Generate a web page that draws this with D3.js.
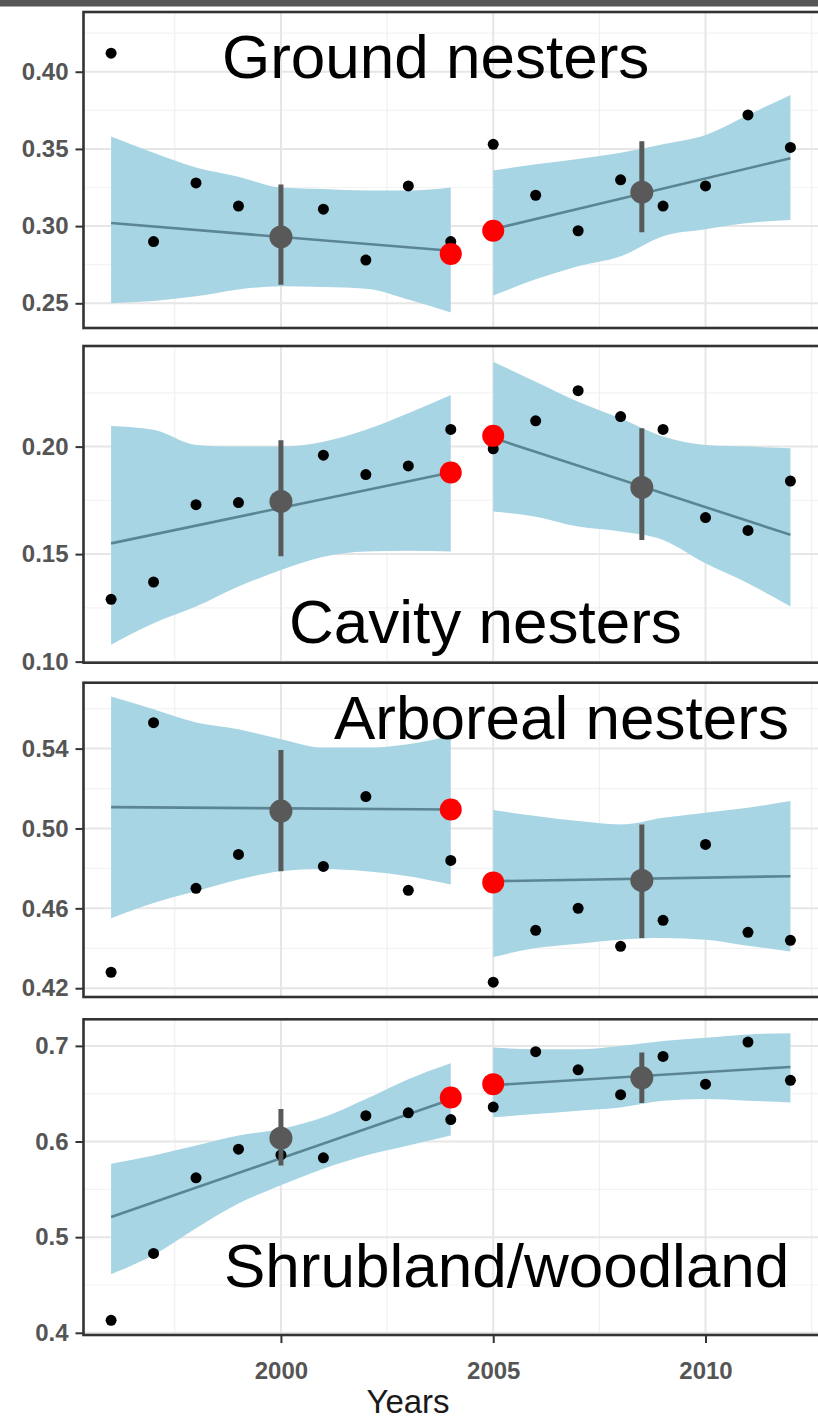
<!DOCTYPE html>
<html>
  <head>
    <script src="https://d3js.org/d3.v7.min.js"></script>
    <style>
      body { margin: 0; background: #fff; }
      svg { display: block; font-family: "Liberation Sans", Arial, sans-serif; }
      .tick text { fill: #555; font-size: 24px; font-weight: bold; }
      .tick line { stroke: #333; stroke-width: 2; }
      .domain { display: none; }
    </style>
  </head>
  <body>
    <svg width="818" height="1422"></svg>
    <script>
      // observed years
      var years = [1996, 1997, 1998, 1999, 2000, 2001, 2002, 2003, 2004,
                   2005, 2006, 2007, 2008, 2009, 2010, 2011, 2012];
      var breakYears = [2004, 2005];
      var meanYears = [2000, 2008.5];
      var xTicks = [2000, 2005, 2010];

      // yearly values
      var groundObs   = [0.412, 0.290, 0.328, 0.313, 0.294, 0.311, 0.278, 0.326, 0.290,
                         0.353, 0.320, 0.297, 0.330, 0.313, 0.326, 0.372, 0.351];
      var cavityObs   = [0.129, 0.137, 0.173, 0.174, 0.176, 0.196, 0.187, 0.191, 0.208,
                         0.199, 0.212, 0.226, 0.214, 0.208, 0.167, 0.161, 0.184];
      var arborealObs = [0.428, 0.553, 0.470, 0.487, 0.508, 0.481, 0.516, 0.469, 0.484,
                         0.423, 0.449, 0.460, 0.441, 0.454, 0.492, 0.448, 0.444];
      var shrubObs    = [0.413, 0.483, 0.562, 0.592, 0.586, 0.583, 0.627, 0.630, 0.623,
                         0.636, 0.694, 0.675, 0.649, 0.689, 0.660, 0.704, 0.664];

      // red points at the break (2004, 2005)
      var groundBreak   = [0.282, 0.297];
      var cavityBreak   = [0.188, 0.205];
      var arborealBreak = [0.5095, 0.473];
      var shrubBreak    = [0.646, 0.660];

      // period means with intervals
      var groundMean   = [0.293, 0.322],   groundLo   = [0.262, 0.296],   groundHi   = [0.327, 0.355];
      var cavityMean   = [0.1745, 0.181],  cavityLo   = [0.149, 0.1566],  cavityHi   = [0.203, 0.2085];
      var arborealMean = [0.5087, 0.474],  arborealLo = [0.4786, 0.4451], arborealHi = [0.5393, 0.502];
      var shrubMean    = [0.6035, 0.6666], shrubLo    = [0.575, 0.6402],  shrubHi    = [0.634, 0.693];

      // fitted line ends: [first year, last year] of each period
      var groundFit1 = [0.302, 0.284],    groundFit2 = [0.298, 0.344];
      var cavityFit1 = [0.155, 0.188],    cavityFit2 = [0.204, 0.159];
      var arborealFit1 = [0.5107, 0.5095], arborealFit2 = [0.4736, 0.4761];
      var shrubFit1 = [0.521, 0.644],     shrubFit2 = [0.659, 0.678];

      // confidence bands, 1996-2004 and 2005-2012
      var groundUp1 = [0.358, 0.3475, 0.338, 0.332, 0.325, 0.324, 0.323, 0.323, 0.325];
      var groundLw1 = [0.250, 0.2515, 0.2545, 0.259, 0.261, 0.2605, 0.2595, 0.2525, 0.244];
      var groundUp2 = [0.336, 0.340, 0.3435, 0.3475, 0.353, 0.359, 0.372, 0.385];
      var groundLw2 = [0.255, 0.2655, 0.274, 0.2805, 0.2935, 0.298, 0.302, 0.304];

      var cavityUp1 = [0.2096, 0.2078, 0.2008, 0.200, 0.200, 0.2023, 0.2078, 0.2155, 0.224];
      var cavityLw1 = [0.1078, 0.1178, 0.1256, 0.1349, 0.1426, 0.1488, 0.1512, 0.1516, 0.1512];
      var cavityUp2 = [0.2395, 0.2302, 0.2209, 0.2132, 0.2047, 0.2008, 0.200, 0.1992];
      var cavityLw2 = [0.1698, 0.1674, 0.1628, 0.1605, 0.1566, 0.1457, 0.1364, 0.1256];

      var arborealUp1 = [0.5661, 0.5597, 0.5531, 0.5497, 0.5447, 0.5405, 0.5405, 0.5422, 0.5464];
      var arborealLw1 = [0.4551, 0.4627, 0.4685, 0.4744, 0.4786, 0.4797, 0.4786, 0.4761, 0.4719];
      var arborealUp2 = [0.5092, 0.5062, 0.5037, 0.502, 0.5054, 0.5079, 0.5104, 0.5137];
      var arborealLw2 = [0.4356, 0.4401, 0.4423, 0.4443, 0.4451, 0.4443, 0.4413, 0.4384];

      var shrubUp1 = [0.5768, 0.5854, 0.5958, 0.6062, 0.6132, 0.6253, 0.6444, 0.6652, 0.6819];
      var shrubLw1 = [0.4613, 0.4814, 0.5092, 0.5351, 0.5542, 0.5716, 0.5854, 0.5958, 0.6062];
      var shrubUp2 = [0.6982, 0.6964, 0.6964, 0.6999, 0.7051, 0.7086, 0.712, 0.7131];
      var shrubLw2 = [0.6253, 0.6288, 0.6323, 0.6357, 0.6427, 0.6444, 0.6427, 0.6409];

      // y ticks and labels
      var groundTicks = [0.25, 0.30, 0.35, 0.40];
      var cavityTicks = [0.10, 0.15, 0.20];
      var arborealTicks = [0.42, 0.46, 0.50, 0.54];
      var shrubTicks = [0.4, 0.5, 0.6, 0.7];
      var titles = ["Ground nesters", "Cavity nesters", "Arboreal nesters", "Shrubland/woodland"];

      var svg = d3.select("svg");
      var x = d3.scaleLinear().domain([1995.35, 2012.8]).range([83.5, 824.4]);
      var left = x.range()[0], width = 760;

      var panels = [
        {obs: groundObs, brk: groundBreak, mean: groundMean, lo: groundLo, hi: groundHi,
         fit1: groundFit1, fit2: groundFit2, up1: groundUp1, lw1: groundLw1, up2: groundUp2, lw2: groundLw2,
         ticks: groundTicks, fmt: ".2f", domain: [0.234, 0.4387], top: 12, bottom: 328,
         title: titles[0], tx: 222, ty: 78},
        {obs: cavityObs, brk: cavityBreak, mean: cavityMean, lo: cavityLo, hi: cavityHi,
         fit1: cavityFit1, fit2: cavityFit2, up1: cavityUp1, lw1: cavityLw1, up2: cavityUp2, lw2: cavityLw2,
         ticks: cavityTicks, fmt: ".2f", domain: [0.0995, 0.2468], top: 346, bottom: 662.7,
         title: titles[1], tx: 289, ty: 643},
        {obs: arborealObs, brk: arborealBreak, mean: arborealMean, lo: arborealLo, hi: arborealHi,
         fit1: arborealFit1, fit2: arborealFit2, up1: arborealUp1, lw1: arborealLw1, up2: arborealUp2, lw2: arborealLw2,
         ticks: arborealTicks, fmt: ".2f", domain: [0.4156, 0.573], top: 682.7, bottom: 997,
         title: titles[2], tx: 334, ty: 739},
        {obs: shrubObs, brk: shrubBreak, mean: shrubMean, lo: shrubLo, hi: shrubHi,
         fit1: shrubFit1, fit2: shrubFit2, up1: shrubUp1, lw1: shrubLw1, up2: shrubUp2, lw2: shrubLw2,
         ticks: shrubTicks, fmt: ".1f", domain: [0.3977, 0.7278], top: 1019.3, bottom: 1335,
         title: titles[3], tx: 224, ty: 1287}
      ];

      // dark strip at the very top
      svg.append("rect").attr("x", 0).attr("y", 0).attr("width", 818).attr("height", 6.5)
        .attr("fill", "#575757");

      var years1 = years.slice(0, 9), years2 = years.slice(9);

      panels.forEach(function(p, i) {
        var y = d3.scaleLinear().domain(p.domain).range([p.bottom, p.top]);
        var g = svg.append("g");

        svg.append("clipPath").attr("id", "clip" + i)
          .append("rect").attr("x", left).attr("y", p.top)
          .attr("width", width).attr("height", p.bottom - p.top);
        var inner = g.append("g").attr("clip-path", "url(#clip" + i + ")");

        // grid
        var step = p.ticks[1] - p.ticks[0];
        var minorY = d3.range(p.ticks[0] - step / 2, p.domain[1], step);
        var minorX = [1997.5, 2002.5, 2007.5, 2012.5];
        inner.selectAll(".mny").data(minorY).join("line")
          .attr("x1", left).attr("x2", left + width)
          .attr("y1", y).attr("y2", y)
          .attr("stroke", "#f3f3f3").attr("stroke-width", 1.2);
        inner.selectAll(".mnx").data(minorX).join("line")
          .attr("x1", x).attr("x2", x)
          .attr("y1", p.top).attr("y2", p.bottom)
          .attr("stroke", "#f0f0f0").attr("stroke-width", 1.2);
        inner.selectAll(".mjy").data(p.ticks).join("line")
          .attr("x1", left).attr("x2", left + width)
          .attr("y1", y).attr("y2", y)
          .attr("stroke", "#e6e6e6").attr("stroke-width", 2);
        inner.selectAll(".mjx").data(xTicks).join("line")
          .attr("x1", x).attr("x2", x)
          .attr("y1", p.top).attr("y2", p.bottom)
          .attr("stroke", "#e6e6e6").attr("stroke-width", 2);

        // confidence bands
        var area = d3.area()
          .x(function(d) { return x(d.year); })
          .y0(function(d) { return y(d.lo); })
          .y1(function(d) { return y(d.hi); })
          .curve(d3.curveMonotoneX);
        var band1 = years1.map(function(yr, k) { return {year: yr, lo: p.lw1[k], hi: p.up1[k]}; });
        var band2 = years2.map(function(yr, k) { return {year: yr, lo: p.lw2[k], hi: p.up2[k]}; });
        [band1, band2].forEach(function(b) {
          inner.append("path").datum(b).attr("d", area).attr("fill", "#a7d5e4");
        });

        // fitted lines
        var fits = [
          [{year: years1[0], v: p.fit1[0]}, {year: years1[years1.length - 1], v: p.fit1[1]}],
          [{year: years2[0], v: p.fit2[0]}, {year: years2[years2.length - 1], v: p.fit2[1]}]
        ];
        var line = d3.line().x(function(d) { return x(d.year); }).y(function(d) { return y(d.v); });
        fits.forEach(function(f) {
          inner.append("path").datum(f).attr("d", line)
            .attr("fill", "none").attr("stroke", "#5c8594").attr("stroke-width", 2.6);
        });

        // observed points
        inner.selectAll(".obs").data(years).join("circle")
          .attr("cx", function(d) { return x(d); })
          .attr("cy", function(d, k) { return y(p.obs[k]); })
          .attr("r", 5.5).attr("fill", "#000");

        // break points
        inner.selectAll(".brk").data(breakYears).join("circle")
          .attr("cx", function(d) { return x(d); })
          .attr("cy", function(d, k) { return y(p.brk[k]); })
          .attr("r", 11).attr("fill", "#ff0000");

        // means with intervals
        inner.selectAll(".bar").data(meanYears).join("line")
          .attr("x1", function(d) { return x(d); }).attr("x2", function(d) { return x(d); })
          .attr("y1", function(d, k) { return y(p.lo[k]); })
          .attr("y2", function(d, k) { return y(p.hi[k]); })
          .attr("stroke", "#595959").attr("stroke-width", 5);
        inner.selectAll(".mean").data(meanYears).join("circle")
          .attr("cx", function(d) { return x(d); })
          .attr("cy", function(d, k) { return y(p.mean[k]); })
          .attr("r", 11.5).attr("fill", "#595959");

        // title
        g.append("text").attr("x", p.tx).attr("y", p.ty)
          .attr("font-size", 62).attr("fill", "#000").text(p.title);

        // border
        g.append("rect").attr("x", left).attr("y", p.top)
          .attr("width", width).attr("height", p.bottom - p.top)
          .attr("fill", "none").attr("stroke", "#333").attr("stroke-width", 2.6);

        // y axis
        g.append("g").attr("transform", "translate(" + left + ",0)")
          .call(d3.axisLeft(y).tickValues(p.ticks).tickSize(8).tickPadding(7)
            .tickFormat(d3.format(p.fmt)));

        if (i === panels.length - 1) {
          g.append("g").attr("transform", "translate(0," + p.bottom + ")")
            .call(d3.axisBottom(x).tickValues(xTicks).tickSize(8).tickPadding(19)
              .tickFormat(d3.format("d")));
        }
      });

      svg.append("text").attr("x", 408).attr("y", 1413)
        .attr("text-anchor", "middle").attr("font-size", 33).attr("fill", "#1a1a1a")
        .text("Years");
    </script>
  </body>
</html>
